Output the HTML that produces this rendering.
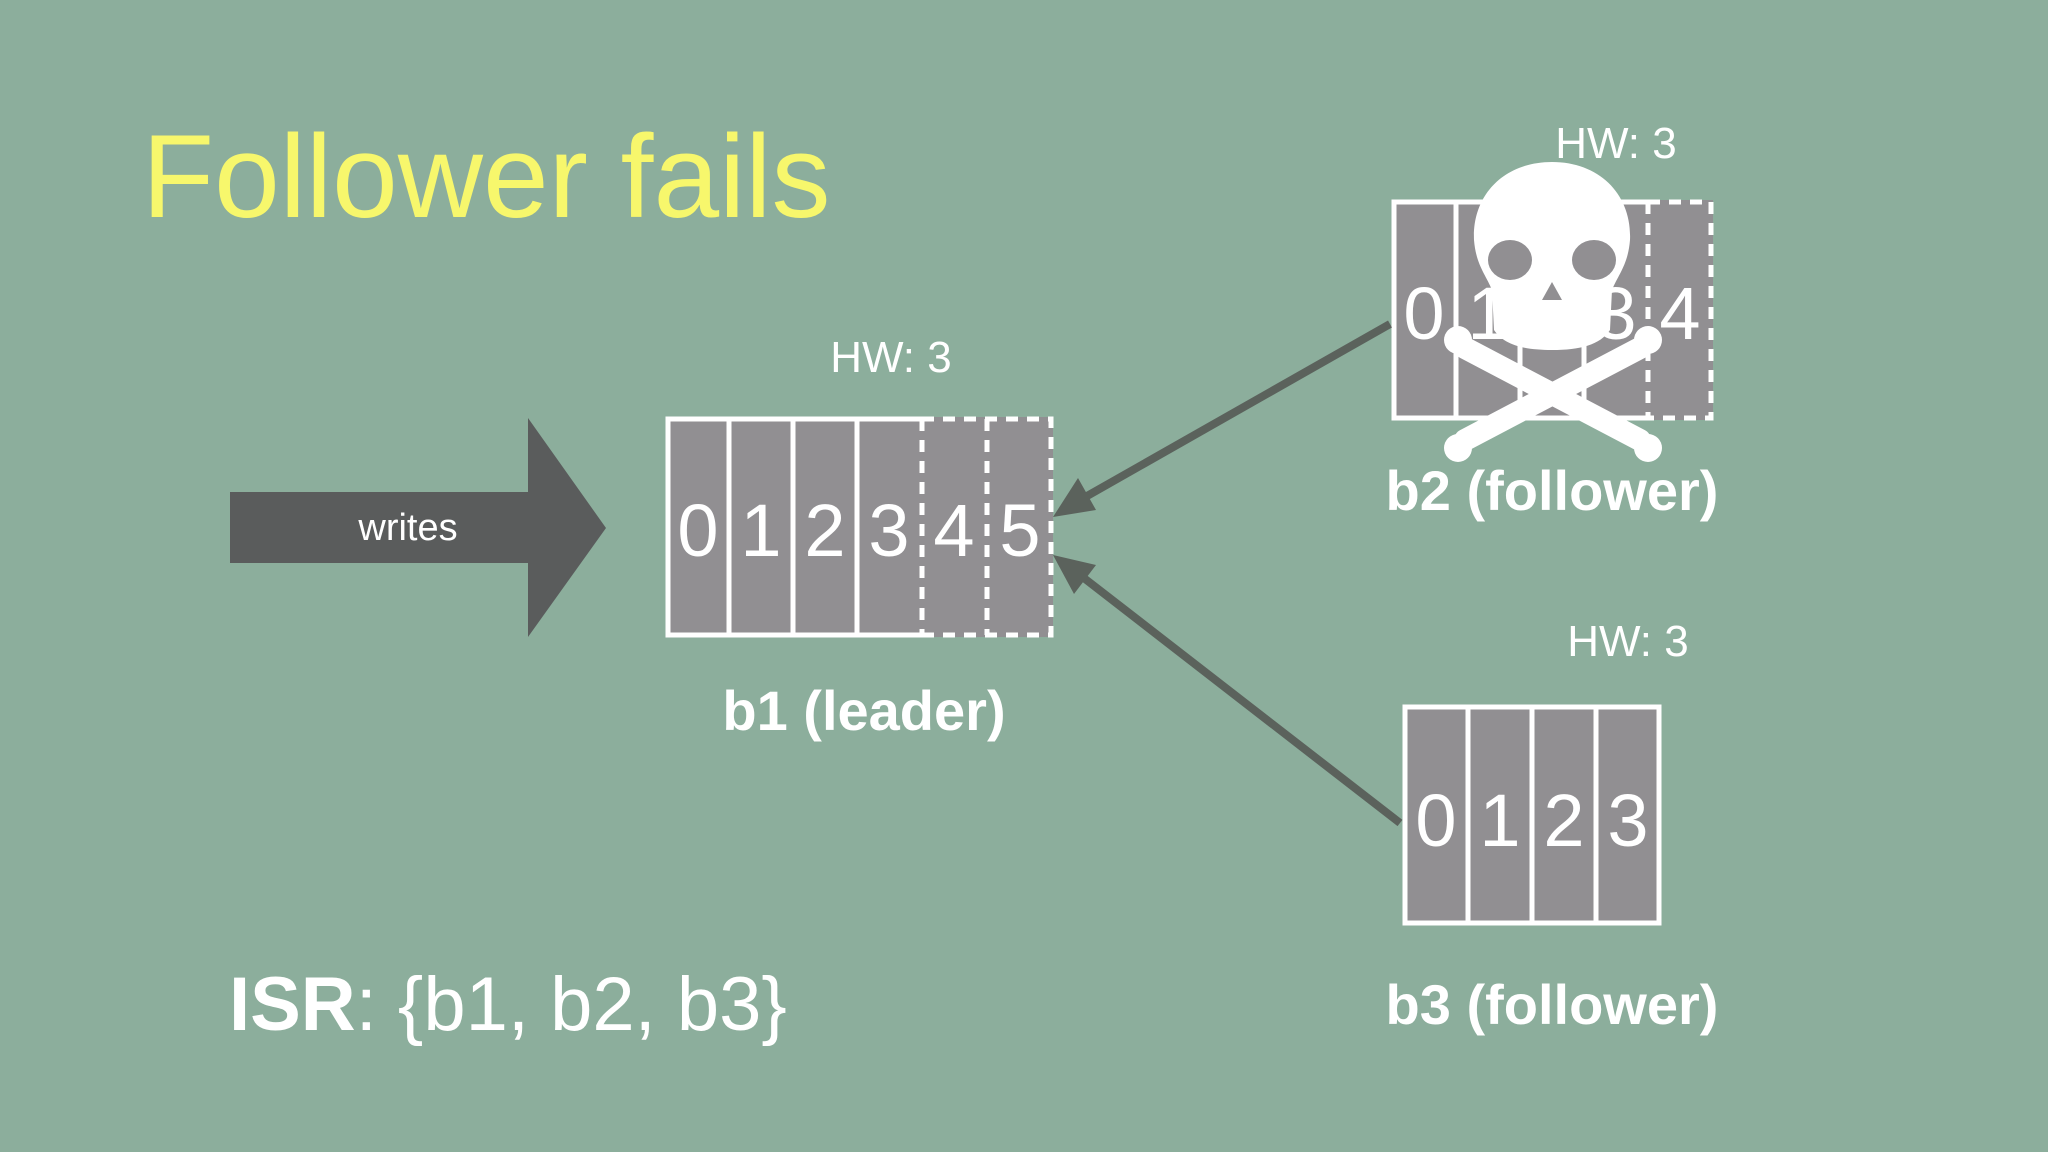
<!DOCTYPE html>
<html><head><meta charset="utf-8"><style>
html,body{margin:0;padding:0}
body{width:2048px;height:1152px;background:#8cae9c;position:relative;overflow:hidden;font-family:"Liberation Sans",sans-serif}
.t{position:absolute;white-space:nowrap}
</style></head><body>
<div class="t" style="left:142px;top:118px;font-size:118px;color:#f7f76c;line-height:1">Follower fails</div>
<svg width="2048" height="1152" style="position:absolute;left:0;top:0">
<g font-family="Liberation Sans, sans-serif" fill="#fff" text-anchor="middle">
<!-- writes arrow -->
<polygon points="230,492 528,492 528,418 606,528 528,637 528,563 230,563" fill="#5a5c5c"/>
<text x="408" y="540" font-size="38">writes</text>
<!-- b1 -->
<rect x="666" y="417" width="256" height="220" fill="#918f92"/>
<rect x="922" y="417" width="131" height="220" fill="#918f92"/>
<g stroke="#fff" stroke-width="5" fill="none">
<path d="M922,419 H668 V635 H922"/>
<line x1="729" y1="419" x2="729" y2="635"/><line x1="793" y1="419" x2="793" y2="635"/><line x1="857" y1="419" x2="857" y2="635"/>
<g stroke-dasharray="12,9"><path d="M922,419 H1051 V635 H922"/><line x1="922" y1="419" x2="922" y2="635"/><line x1="987" y1="419" x2="987" y2="635"/></g>
</g>
<g font-size="74"><text x="698" y="556">0</text><text x="761" y="556">1</text><text x="825" y="556">2</text><text x="889" y="556">3</text><text x="954" y="556">4</text><text x="1020" y="556">5</text></g>
<text x="891" y="372" font-size="44">HW: 3</text>
<text x="864" y="730" font-size="56" font-weight="bold">b1 (leader)</text>
<!-- b2 -->
<rect x="1392" y="200" width="321" height="220" fill="#918f92"/>
<g stroke="#fff" stroke-width="5" fill="none">
<path d="M1648,202 H1394 V418 H1648"/>
<line x1="1456" y1="202" x2="1456" y2="418"/><line x1="1520" y1="202" x2="1520" y2="418"/><line x1="1584" y1="202" x2="1584" y2="418"/>
<g stroke-dasharray="12,9"><path d="M1648,202 H1711 V418 H1648"/><line x1="1648" y1="202" x2="1648" y2="418"/></g>
</g>
<g font-size="74"><text x="1424" y="339">0</text><text x="1488" y="339">1</text><text x="1552" y="339">2</text><text x="1616" y="339">3</text><text x="1680" y="339">4</text></g>
<text x="1616" y="158" font-size="44">HW: 3</text>
<text x="1552" y="510" font-size="56" font-weight="bold">b2 (follower)</text>
<!-- skull -->
<g fill="#fff">
<path d="M1552,162 C1600,162 1632,195 1630,240 C1628,265 1618,275 1612,290 L1610,330 C1600,345 1580,350 1552,350 C1524,350 1504,345 1494,330 L1492,290 C1486,275 1476,265 1474,240 C1472,195 1504,162 1552,162 Z"/>
<g stroke="#fff" stroke-width="22" stroke-linecap="round"><line x1="1465" y1="348" x2="1640" y2="440"/><line x1="1640" y1="348" x2="1465" y2="440"/></g>
<circle cx="1458" cy="340" r="14"/><circle cx="1648" cy="340" r="14"/><circle cx="1458" cy="448" r="14"/><circle cx="1648" cy="448" r="14"/>
<ellipse cx="1510" cy="260" rx="22" ry="20" fill="#918f92"/><ellipse cx="1594" cy="260" rx="22" ry="20" fill="#918f92"/>
<path d="M1552,282 L1542,300 L1562,300 Z" fill="#918f92"/>
</g>
<!-- b3 -->
<rect x="1403" y="705" width="258" height="220" fill="#918f92"/>
<g stroke="#fff" stroke-width="5" fill="none">
<rect x="1405" y="707" width="254" height="216"/>
<line x1="1468" y1="707" x2="1468" y2="923"/><line x1="1532" y1="707" x2="1532" y2="923"/><line x1="1596" y1="707" x2="1596" y2="923"/>
</g>
<g font-size="74"><text x="1436" y="846">0</text><text x="1500" y="846">1</text><text x="1564" y="846">2</text><text x="1628" y="846">3</text></g>
<text x="1628" y="656" font-size="44">HW: 3</text>
<text x="1552" y="1024" font-size="56" font-weight="bold">b3 (follower)</text>
<!-- connectors -->
<g stroke="#5b625c" stroke-width="8"><line x1="1390" y1="324" x2="1080" y2="500"/><line x1="1400" y1="823" x2="1080" y2="575"/></g>
<polygon points="1053,517 1078,478 1096,510" fill="#5b625c"/>
<polygon points="1053,555 1096,565 1074,594" fill="#5b625c"/>
<text x="229" y="1030" font-size="76" text-anchor="start"><tspan font-weight="bold">ISR</tspan>: {b1, b2, b3}</text>
</g>
</svg>
</body></html>
